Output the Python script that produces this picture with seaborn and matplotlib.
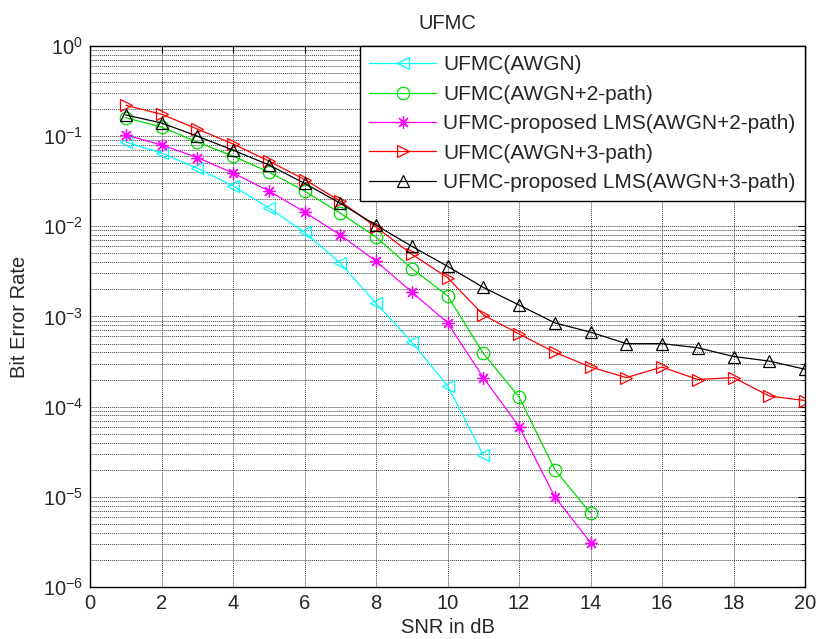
import matplotlib
matplotlib.use("Agg")
import matplotlib.pyplot as plt
import seaborn as sns
import numpy as np
import pandas as pd
from matplotlib.ticker import LogLocator, FixedLocator, NullFormatter

snr_awgn = [1, 2, 3, 4, 5, 6, 7, 8, 9, 10, 11]
ber_awgn = [0.086, 0.065, 0.044, 0.028, 0.016, 0.0086, 0.0039, 0.0014, 0.00052, 0.00017, 2.9e-5]

snr_2p = [1, 2, 3, 4, 5, 6, 7, 8, 9, 10, 11, 12, 13, 14]
ber_2p = [0.16, 0.126, 0.086, 0.060, 0.040, 0.0246, 0.014, 0.0076, 0.0034, 0.0017, 0.00039, 0.000128, 2.0e-5, 6.6e-6]

snr_lms2p = [1, 2, 3, 4, 5, 6, 7, 8, 9, 10, 11, 12, 13, 14]
ber_lms2p = [0.103, 0.08, 0.058, 0.039, 0.0247, 0.0144, 0.008, 0.0041, 0.00187, 0.00085, 0.00021, 6.0e-5, 1.0e-5, 3.1e-6]

snr_3p = list(range(1, 21))
ber_3p = [0.22, 0.175, 0.12, 0.082, 0.053, 0.033, 0.019, 0.0098, 0.0049, 0.0027, 0.00104, 0.00064,
          0.0004, 0.000275, 0.00021, 0.000275, 0.0002, 0.00021, 0.000131, 0.000117]

snr_lms3p = list(range(1, 21))
ber_lms3p = [0.172, 0.14, 0.10, 0.070, 0.048, 0.030, 0.018, 0.0103, 0.006, 0.0036, 0.0021, 0.00134,
             0.00085, 0.00067, 0.0005, 0.0005, 0.00045, 0.00036, 0.00032, 0.00026]

labels = ["UFMC(AWGN)", "UFMC(AWGN+2-path)", "UFMC-proposed LMS(AWGN+2-path)",
          "UFMC(AWGN+3-path)", "UFMC-proposed LMS(AWGN+3-path)"]
colors = ["#00FFFF", "#00DD00", "#FF00FF", "#FF0000", "#000000"]
markers = ["<", "o", (8, 2, 0), ">", "^"]
xticks = list(range(0, 21, 2))

sns.set_style("white")
plt.rcParams["font.family"] = ["Liberation Sans", "DejaVu Sans"]
plt.rcParams["mathtext.default"] = "regular"
plt.rcParams["axes.unicode_minus"] = False
plt.rcParams["font.size"] = 14.5

fig = plt.figure(figsize=(8.19, 6.39), dpi=100)
ax = fig.add_axes([0.110, 0.0814, 0.873, 0.8466])

series = [(snr_awgn, ber_awgn), (snr_2p, ber_2p), (snr_lms2p, ber_lms2p),
          (snr_3p, ber_3p), (snr_lms3p, ber_lms3p)]
for (xs, ys), lab, c, m in zip(series, labels, colors, markers):
    df = pd.DataFrame({"SNR": xs, "BER": ys})
    sns.lineplot(data=df, x="SNR", y="BER", ax=ax, color=c, label=lab, lw=0.9,
                 marker=m, markersize=9, markerfacecolor="none",
                 markeredgecolor=c, markeredgewidth=0.9)

ax.set_yscale("log")
ax.set_xlim(0, 20)
ax.set_ylim(1e-6, 1)
ax.xaxis.set_major_locator(FixedLocator(xticks))
ax.yaxis.set_major_locator(LogLocator(base=10, numticks=10))
ax.yaxis.set_minor_locator(LogLocator(base=10, subs=np.arange(2, 10), numticks=100))
ax.yaxis.set_minor_formatter(NullFormatter())

ax.grid(which="major", axis="both", color="0.25", ls=(0, (1, 1)), lw=0.7)
ax.grid(which="minor", axis="y", color="0.25", ls=(0, (1, 1)), lw=0.7)

ax.tick_params(which="both", direction="in", top=True, right=True, labelsize=14.5,
               color="k")
ax.tick_params(which="major", length=5, pad=5)
ax.tick_params(which="minor", length=3)
for s in ax.spines.values():
    s.set_color("k")
    s.set_linewidth(1.0)

ax.set_xlabel("SNR in dB", fontsize=14.5, labelpad=4)
ax.set_ylabel("Bit Error Rate", fontsize=14.5, labelpad=10)
ax.set_title("UFMC", fontsize=14.5, pad=12)

leg = ax.legend(loc="upper right", fontsize=15, handlelength=3.2, frameon=True,
                fancybox=False, borderaxespad=0.0, borderpad=0.45, labelspacing=0.5,
                handletextpad=0.35, framealpha=1)
leg.get_frame().set_edgecolor("k")
leg.get_frame().set_linewidth(1.0)

fig.savefig("out.png", dpi=100)
